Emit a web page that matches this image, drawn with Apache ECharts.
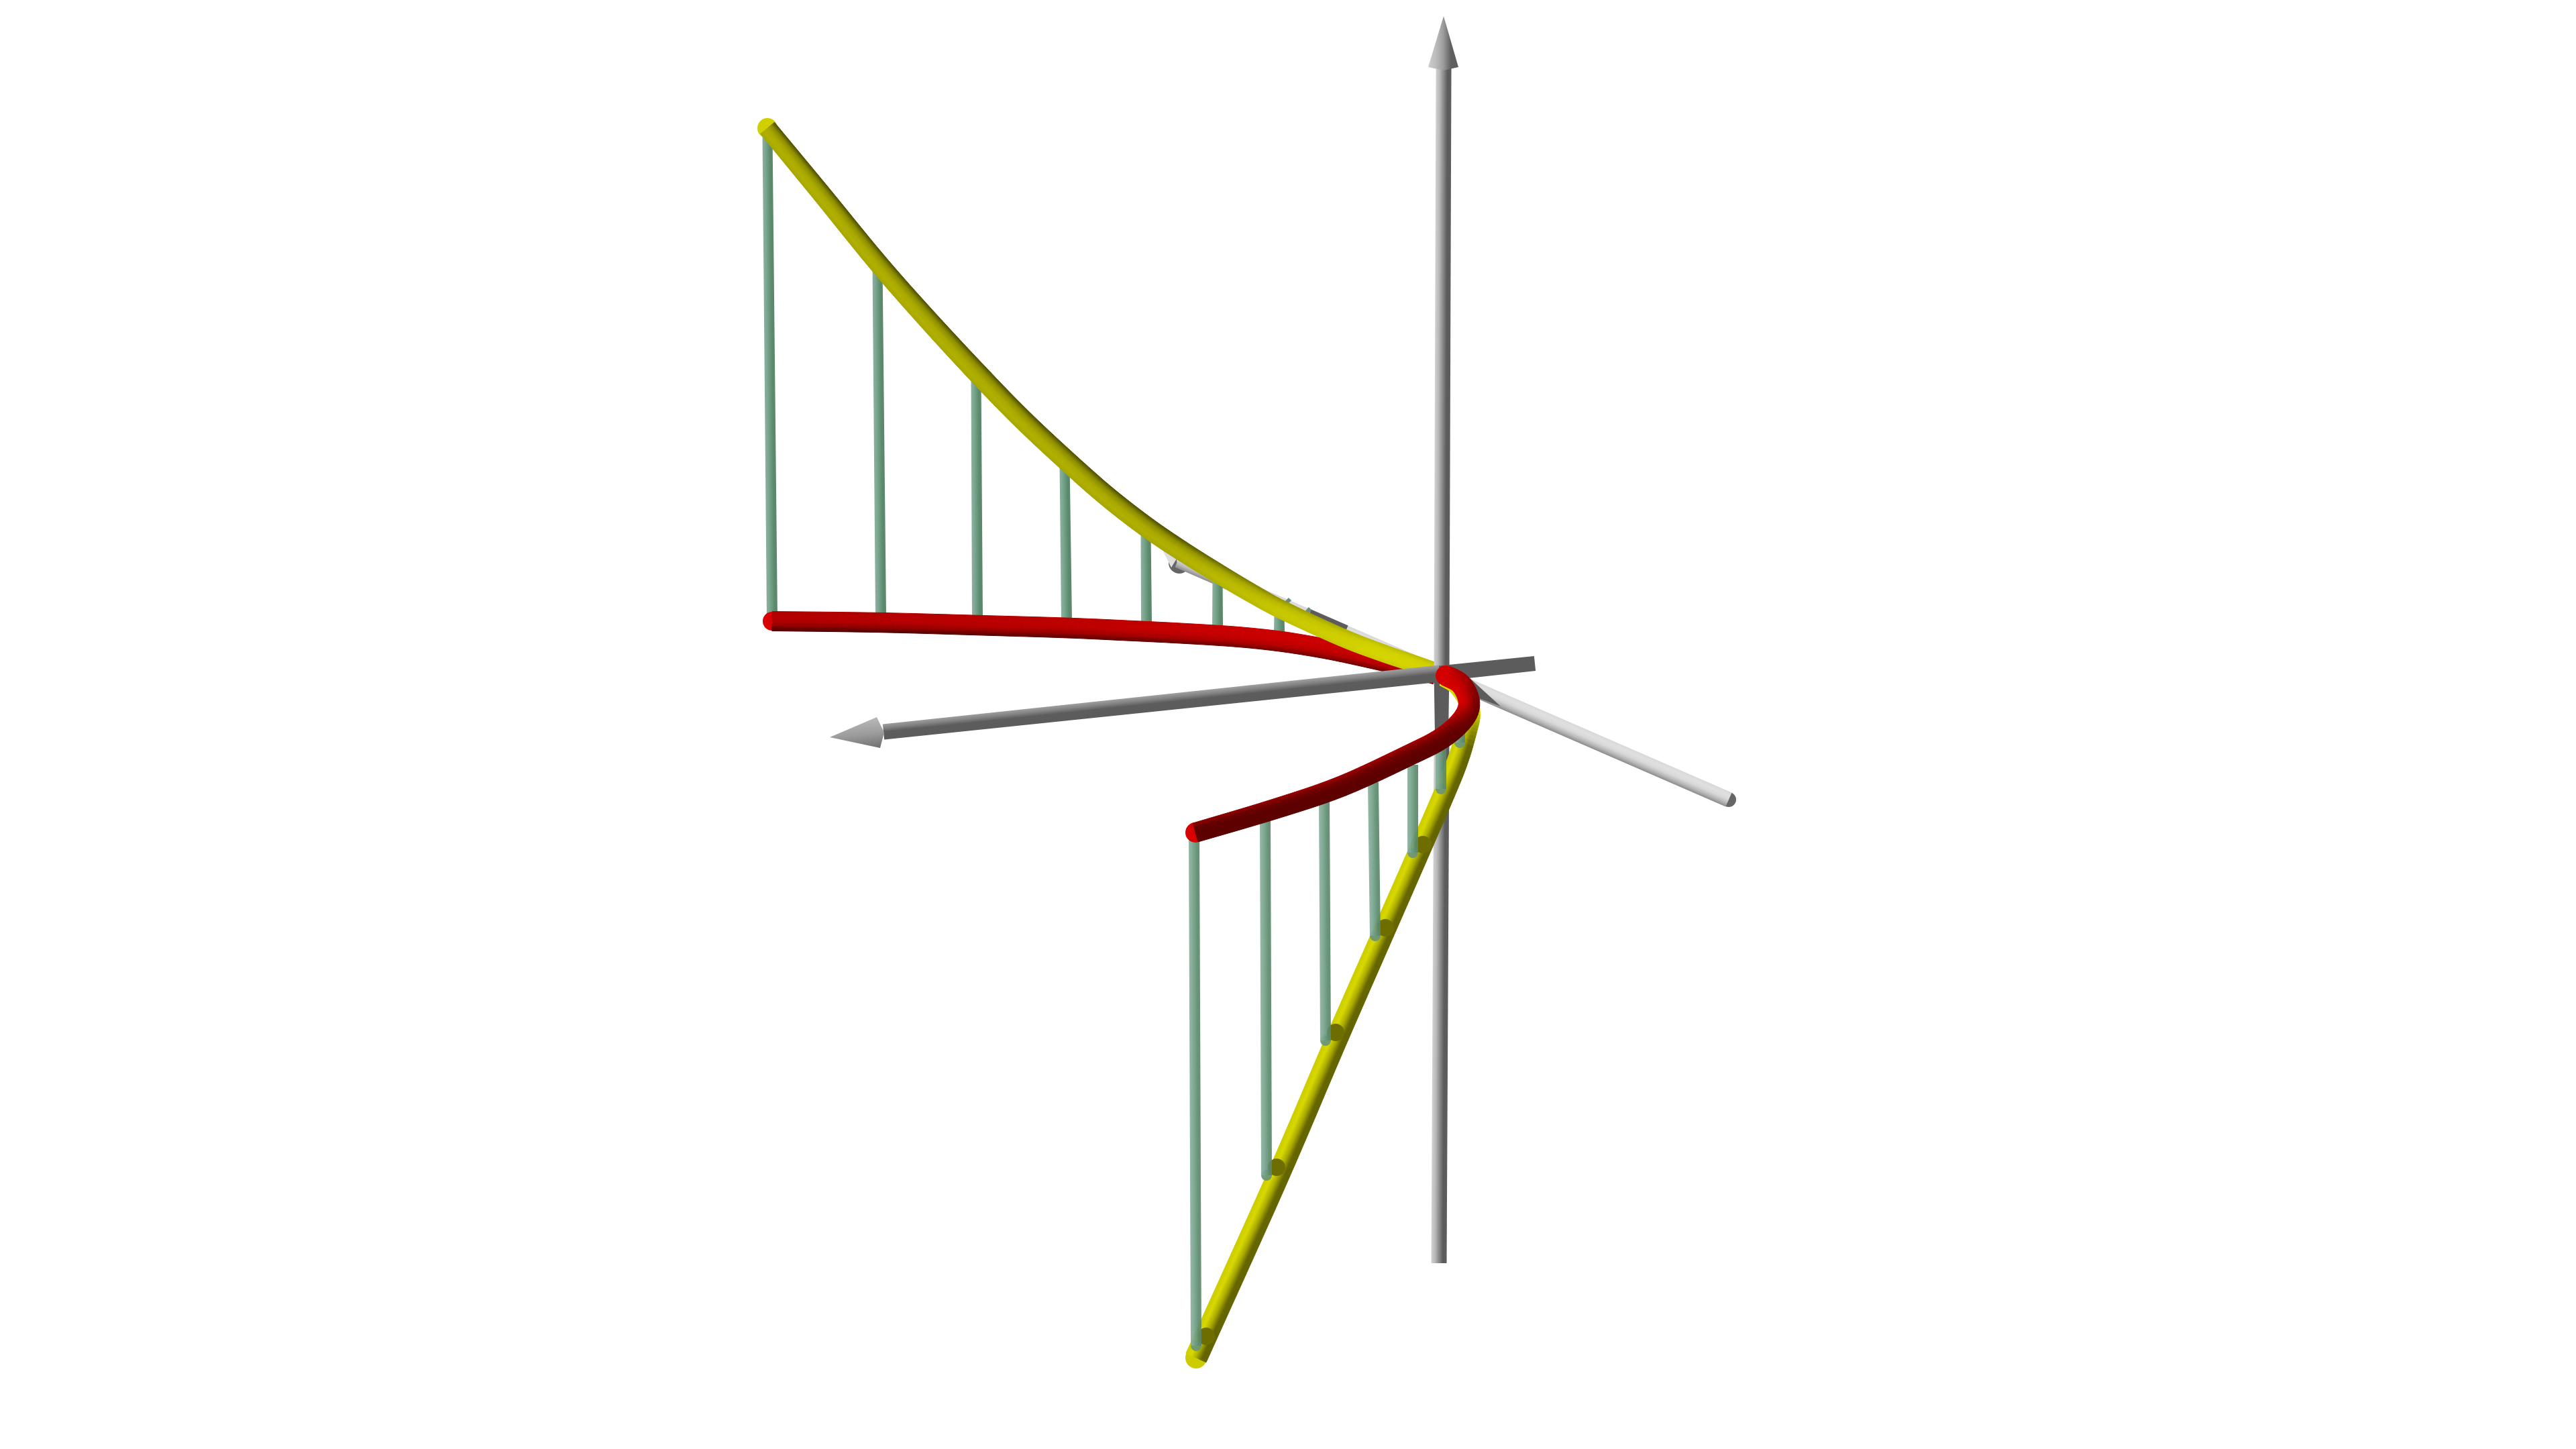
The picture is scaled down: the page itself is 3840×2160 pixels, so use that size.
<!DOCTYPE html>
<html><head><meta charset="utf-8">
<style>html,body{margin:0;padding:0;background:#fff}#c{width:3840px;height:2160px}</style>
<script src="https://cdn.jsdelivr.net/npm/echarts@6/dist/echarts.min.js"></script>
</head><body><div id="c"></div>
<script>
// Values, on a 3840 x 2160 plane
var yellowUpper = [[1144,191],[1224,288],[1308,391],[1381,474],[1455,554],[1521,622],[1587,684],[1648,738],[1707,784],[1760,820],[1813,853],[1867,885],[1913,910],[2000,950],[2060,973],[2110,990],[2145,1002]];
var yellowLower = [[2152,1010],[2172,1022],[2188,1045],[2192,1065],[2187,1088],[2174,1131],[2153,1183],[2102,1300],[2058,1400],[1990,1555],[1903,1758],[1783,2024]];
var redUpper = [[1151,926],[1310,928],[1457,932],[1590,936],[1680,940],[1760,944],[1840,949],[1900,955],[1947,962],[2000,972],[2083,991],[2140,1006]];
var redLower = [[2155,1007],[2178,1020],[2190,1047],[2181,1072],[2150,1100],[2100,1126],[2000,1172],[1900,1206],[1782,1241]];
var stemsUpper = [
  [[1144,200],[1151,921]],
  [[1308,395],[1313,916]],
  [[1455,558],[1457,921]],
  [[1587,690],[1590,926]],
  [[1708,790],[1709,927]],
  [[1815,860],[1815,935]],
  [[1907,912],[1907,943]]
];
var stemsLower = [
  [[1780,1245],[1783,2006]],
  [[1886,1220],[1888,1752]],
  [[1974,1193],[1976,1551]],
  [[2047,1166],[2050,1395]],
  [[2106,1140],[2106,1271]],
  [[2148,1110],[2148,1176]],
  [[2176,1090],[2176,1107]]
];
var axisVerticalTop = [[2152,100],[2149,1000]];
var axisVerticalDark = [[2149,1000],[2149,1098]];
var axisVerticalBottom = [[2149,1098],[2145,1883]];
var axisLeftLit = [[1317,1091],[2146,1004]];
var axisRightDark = [[2146,1004],[2288,989]];
var axisDiagonal = [[1756,835],[2577,1192]];
var diagonalDarkA = [[1950,919],[2005,943]];
var diagonalDarkB = [[2190,1010],[2237,1053],[2205,1041]];
var diagonalMarkA = [[1923,893],[1917,899]];
var diagonalMarkB = [[1953,907],[1948,913]];
var arrowUp = [[2152,24],[2129,100],[2152,105],[2174,100]];
var arrowLeft = [[1237,1099],[1307,1069],[1318,1092],[1312,1115]];
var arrowFarSliver = [[1733,820],[1746,846],[1765,815]];
var arrowFarBack = [[1758,839]];
var arrowFarInner = [[1764,835]];
var footShadows = [[1798,1992],[1903,1740],[1991,1539],[2065,1383],[2121,1259]];

var PALETTE = {
  grayLit:['#5c5c5c','#5c5c5c','#8a8a8a','#b8b8b8','#d2d2d2'],
  grayDark:['#5c5c5c','#5c5c5c','#5c5c5c','#5c5c5c','#5c5c5c'],
  horizFar:['#8e8e8e','#777777','#5c5c5c','#5c5c5c','#5c5c5c'],
  horizNear:['#b0b0b0','#8e8e8e','#5e5e5e','#5c5c5c','#5c5c5c'],
  white:['#d8d8d8','#e0e0e0','#d8d8d8','#b8b8b8','#8a8a8a'],
  stem:['#5a876a','#5c8a6c','#6a9a80','#7ea892','#8ab09e'],
  mark:['#6e8a80','#6e8a80','#6e8a80','#6e8a80','#6e8a80'],
  yFar:['#4e4e00','#8e8e00','#a8a800','#b0b000','#a6a600'],
  yNear:['#bcbc00','#d0d000','#d4d400','#d4d400','#cccc00'],
  yLow:['#646400','#666600','#acac00','#d8d800','#cccc00'],
  yTop:['#d8d800','#d8d800','#d8d800','#d8d800','#d8d800'],
  rFar:['#aa0000','#b40000','#b00000','#8c0000','#480000'],
  rNear:['#c80000','#cc0000','#c60000','#b00000','#700000'],
  rLoop0:['#c00000','#d40000','#d40000','#d40000','#d40000'],
  rLoop1:['#6c0000','#800000','#b00000','#d00000','#d40000'],
  rLoop2:['#5c0000','#5e0000','#660000','#800000','#b00000'],
  rEnd:['#5c0000','#5c0000','#5c0000','#640000','#8c0000']
};

function hex(c){return [parseInt(c.substr(1,2),16),parseInt(c.substr(3,2),16),parseInt(c.substr(5,2),16)];}
function mix(a,b,t){var A=hex(a),B=hex(b);return 'rgb('+A.map(function(v,i){return Math.round(v+(B[i]-v)*t);}).join(',')+')';}
function keyed(keys,s){
  for(var i=0;i<keys.length-1;i++){
    if(s<=keys[i+1][0]){
      var t=(s-keys[i][0])/Math.max(1e-6,keys[i+1][0]-keys[i][0]);
      return keys[i][1].map(function(c,k){return mix(c,keys[i+1][1][k],Math.min(1,Math.max(0,t)));});
    }
  }
  return keys[keys.length-1][1].map(function(c){return mix(c,c,0);});
}
function widthAt(w,s){
  if(w.length<2)return w[0];
  var p=s*(w.length-1),i=Math.min(w.length-2,Math.floor(p));
  return w[i]+(w[i+1]-w[i])*(p-i);
}
function refine(pts){
  if(pts.length<3)return pts;
  var out=[];
  for(var i=0;i<pts.length-1;i++){
    var a=pts[Math.max(0,i-1)],b=pts[i],c=pts[i+1],d=pts[Math.min(pts.length-1,i+2)];
    for(var k=0;k<6;k++){
      var t=k/6,t2=t*t,t3=t2*t;
      out.push([0,1].map(function(j){
        return 0.5*(2*b[j]+(c[j]-a[j])*t+(2*a[j]-5*b[j]+4*c[j]-d[j])*t2+(3*b[j]-a[j]-3*c[j]+d[j])*t3);
      }));
    }
  }
  out.push(pts[pts.length-1]);
  return out;
}
function tubeSeries(points,opt){
  return {
    type:'custom',coordinateSystem:'cartesian2d',silent:true,clip:false,animation:false,progressive:0,
    encode:{x:0,y:1},data:points,
    renderItem:function(params,api){
      if(params.dataIndex!==0)return null;
      var px=refine(points.map(function(p){return api.coord(p);}));
      var n=px.length,normals=[],kids=[],i;
      for(i=0;i<n;i++){
        var a=px[Math.max(0,i-1)],b=px[Math.min(n-1,i+1)];
        var dx=b[0]-a[0],dy=b[1]-a[1],L=Math.hypot(dx,dy)||1;
        normals.push([-dy/L,dx/L]);
      }
      (opt.caps||[]).forEach(function(c){
        var at=c.end?px[n-1]:px[0];
        kids.push({type:'circle',shape:{cx:at[0],cy:at[1],r:c.r},style:{fill:c.color,opacity:c.opacity||1}});
      });
      for(i=0;i<n-1;i++){
        var s0=i/(n-1),s1=(i+1)/(n-1),h0=widthAt(opt.width,s0)/2,h1=widthAt(opt.width,s1)/2;
        var mx=(px[i][0]+px[i+1][0])/2,my=(px[i][1]+px[i+1][1])/2,nm=normals[i],hm=(h0+h1)/2;
        var cols=keyed(opt.shade,(s0+s1)/2);
        var stops=cols.map(function(c,k){return {offset:k/(cols.length-1),color:c};});
        var g=new echarts.graphic.LinearGradient(mx-nm[0]*hm,my-nm[1]*hm,mx+nm[0]*hm,my+nm[1]*hm,stops,true);
        var st={fill:g};
        if(opt.opacity)st.opacity=opt.opacity;
        if(n>2){st.stroke=g;st.lineWidth=1;}
        kids.push({type:'polygon',shape:{points:[
          [px[i][0]-normals[i][0]*h0,px[i][1]-normals[i][1]*h0],
          [px[i+1][0]-normals[i+1][0]*h1,px[i+1][1]-normals[i+1][1]*h1],
          [px[i+1][0]+normals[i+1][0]*h1,px[i+1][1]+normals[i+1][1]*h1],
          [px[i][0]+normals[i][0]*h0,px[i][1]+normals[i][1]*h0]
        ]},style:st});
      }
      return {type:'group',children:kids};
    }
  };
}
function coneSeries(points,colors){
  return {
    type:'custom',coordinateSystem:'cartesian2d',silent:true,clip:false,animation:false,
    encode:{x:0,y:1},data:points,
    renderItem:function(params,api){
      if(params.dataIndex!==0)return null;
      var px=points.map(function(p){return api.coord(p);});
      var a=px[1],b=px[px.length-1];
      var g=new echarts.graphic.LinearGradient(a[0],a[1],b[0],b[1],colors.map(function(c,i){return {offset:i/(colors.length-1),color:c};}),true);
      return {type:'polygon',shape:{points:px},style:{fill:g}};
    }
  };
}
function discs(points,radius,color){
  return {
    type:'custom',coordinateSystem:'cartesian2d',silent:true,clip:false,animation:false,
    encode:{x:0,y:1},data:points,
    renderItem:function(params,api){
      var c=api.coord(points[params.dataIndex]);
      return {type:'circle',shape:{cx:c[0],cy:c[1],r:radius},style:{fill:color}};
    }
  };
}

var series=[];
// far arrow and diagonal axis
series.push(discs(arrowFarBack,16,'#666666'));
series.push(coneSeries(arrowFarSliver,['#e4e4e4','#d0d0d0']));
series.push(discs(arrowFarInner,10,'#e0e0e0'));
series.push(tubeSeries(axisDiagonal,{width:[23],shade:[[0,PALETTE.white]],caps:[{end:true,r:11,color:'#666666'}]}));
series.push(tubeSeries(diagonalDarkA,{width:[23],shade:[[0,PALETTE.grayDark]]}));
series.push(tubeSeries(diagonalMarkA,{width:[6],shade:[[0,PALETTE.mark]]}));
series.push(tubeSeries(diagonalMarkB,{width:[6],shade:[[0,PALETTE.mark]]}));
series.push(coneSeries(diagonalDarkB,['#5c5c5c','#5c5c5c']));
// upper stems, red and yellow
stemsUpper.forEach(function(s){series.push(tubeSeries(s,{width:[15,16],shade:[[0,PALETTE.stem]]}));});
series.push(tubeSeries(redUpper,{width:[29,30,30,28],shade:[[0,PALETTE.rFar],[0.6,PALETTE.rNear],[1,PALETTE.rNear]],caps:[{r:14,color:'#d80000'}]}));
series.push(tubeSeries(yellowUpper,{width:[27,30,30,27,24],shade:[[0,PALETTE.yFar],[0.55,PALETTE.yFar],[0.85,PALETTE.yNear],[1,PALETTE.yNear]],caps:[{r:15,color:'#d0d000'}]}));
// axes
series.push(tubeSeries(axisVerticalTop,{width:[23],shade:[[0,PALETTE.grayLit]]}));
series.push(tubeSeries(axisVerticalBottom,{width:[23,23],shade:[[0,PALETTE.grayLit]]}));
series.push(tubeSeries(axisVerticalDark,{width:[23,20],shade:[[0,PALETTE.grayDark]]}));
series.push(coneSeries(arrowUp,['#cccccc','#bcbcbc','#9c9c9c','#606060','#5c5c5c']));
series.push(tubeSeries(axisRightDark,{width:[23,22],shade:[[0,PALETTE.grayDark]]}));
series.push(tubeSeries(axisLeftLit,{width:[23,25],shade:[[0,PALETTE.horizFar],[1,PALETTE.horizNear]]}));
series.push(coneSeries(arrowLeft,['#b8b8b8','#9c9c9c','#707070']));
// lower yellow, stems, red
series.push(tubeSeries(yellowLower,{width:[26,31,33],shade:[[0,PALETTE.yTop],[0.25,PALETTE.yTop],[0.42,PALETTE.yLow],[1,PALETTE.yLow]],caps:[{end:true,r:16,color:'#cccc00'}]}));
series.push(discs(footShadows,13,'#6e6e00'));
stemsLower.forEach(function(s){series.push(tubeSeries(s,{width:[16,16],opacity:0.92,shade:[[0,PALETTE.stem]],caps:[{end:true,r:8,color:'#6a9478',opacity:0.92}]}));});
series.push(tubeSeries(redLower,{width:[30,32,31,29],shade:[[0,PALETTE.rLoop0],[0.25,PALETTE.rLoop1],[0.45,PALETTE.rLoop2],[1,PALETTE.rEnd]],caps:[{r:15,color:'#d40000'},{end:true,r:15,color:'#d80000'}]}));

var chart=echarts.init(document.getElementById('c'),null,{renderer:'canvas',width:3840,height:2160});
chart.setOption({
  backgroundColor:'#ffffff',animation:false,
  grid:{left:0,right:0,top:0,bottom:0},
  xAxis:{type:'value',min:0,max:3840,show:false},
  yAxis:{type:'value',min:0,max:2160,inverse:true,show:false},
  series:series
});
</script></body></html>
